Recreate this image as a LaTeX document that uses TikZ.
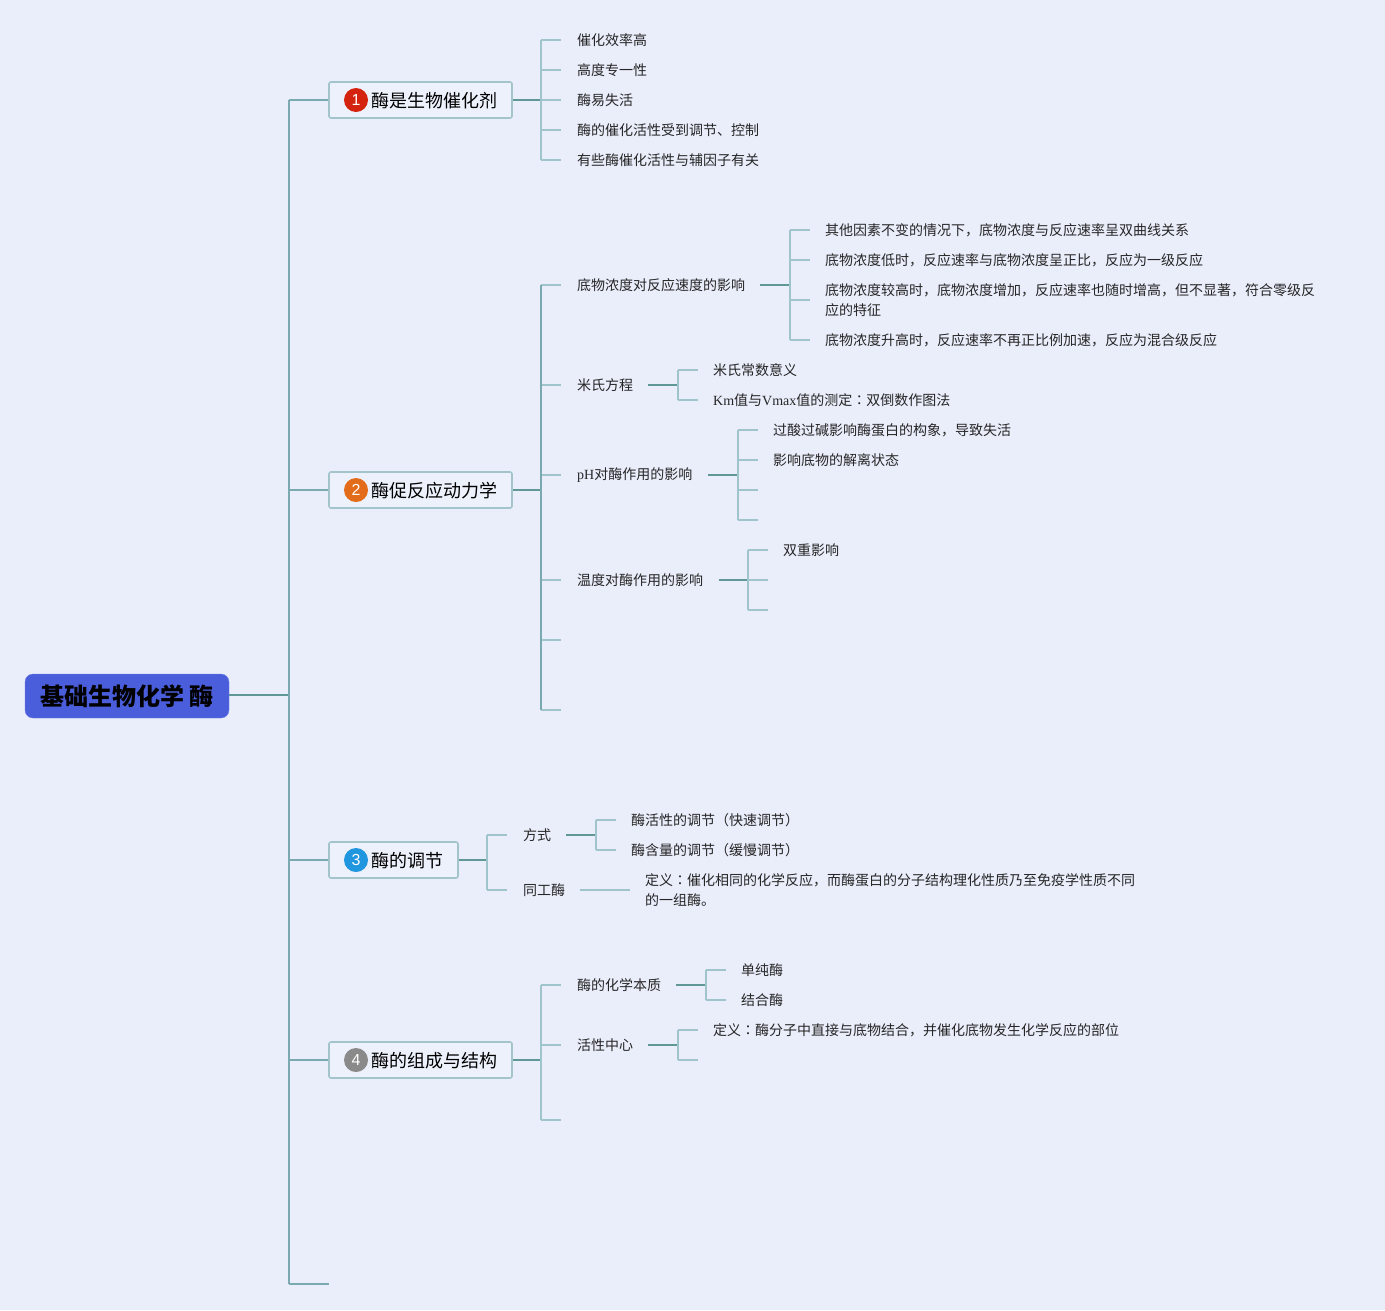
\documentclass[tikz,border=0pt]{standalone}
\usepackage{fontspec}
\setmainfont{Liberation Serif}
\newfontfamily\cjk{Noto Sans CJK SC}
\newfontfamily\cjktc{Noto Sans CJK TC}
\newfontfamily\numfont{Liberation Sans}
\newcommand{\midcolon}{{\cjktc ：}}
\definecolor{bgcol}{RGB}{234,238,251}
\definecolor{boxfill}{RGB}{236,241,251}
\definecolor{boxcol}{RGB}{164,196,204}
\definecolor{rootcol}{RGB}{74,94,220}
\definecolor{stemcol}{RGB}{96,152,152}
\definecolor{trunkcol}{RGB}{122,170,176}
\definecolor{twigcol}{RGB}{160,196,204}
\definecolor{redone}{RGB}{212,35,15}
\definecolor{orangetwo}{RGB}{226,108,26}
\definecolor{bluethree}{RGB}{32,150,222}
\definecolor{greyfour}{RGB}{138,138,138}
\tikzset{
  leaf/.style={anchor=west, inner sep=0pt, align=left, text=black!85,
    font=\cjk\fontsize{14}{20}\selectfont},
  topic/.style={anchor=west, inner sep=0pt, font=\cjk\fontsize{18}{22}\selectfont},
  topicbox/.style={draw=boxcol, line width=1.6pt, fill=boxfill, rounded corners=2pt,
    minimum height=36pt, inner sep=0pt},
  badge/.style={circle, fill=#1, minimum size=24pt, inner sep=0pt, text=white,
    font=\numfont\fontsize{16}{16}\selectfont},
  stem/.style={draw=stemcol, line width=2pt},
  trunk/.style={draw=trunkcol, line width=2pt},
  twig/.style={draw=twigcol, line width=1.6pt},
}
\begin{document}
\begin{tikzpicture}[x=1pt,y=-1pt]
\fill[bgcol] (0,0) rectangle (1385,1310);
%%%% root and trunk
\node[fill=rootcol, draw=rootcol!80!white, rounded corners=8pt, minimum width=204pt,
  minimum height=44pt, font=\cjk\bfseries\fontsize{24}{28}\selectfont] (root) at (127,696) {基础生物化学 酶};
\coordinate (tr) at (289,695);
\coordinate (n5) at (329,1284);
\draw[stem] (root.east |- tr) -- (tr);
\draw[trunk] (tr |- 0,100) -- (tr |- n5);
%%%% topic boxes
\node[topicbox, minimum width=183pt] (n1) at (420.5,100) {};
\node[badge=redone] (c1) at (356,100) {1};
\node[topic] (t1) at (371,101) {酶是生物催化剂};
\node[topicbox, minimum width=183pt] (n2) at (420.5,490) {};
\node[badge=orangetwo] (c2) at (356,490) {2};
\node[topic] (t2) at (371,491) {酶促反应动力学};
\node[topicbox, minimum width=129pt] (n3) at (393.5,860) {};
\node[badge=bluethree] (c3) at (356,860) {3};
\node[topic] (t3) at (371,861) {酶的调节};
\node[topicbox, minimum width=183pt] (n4) at (420.5,1060) {};
\node[badge=greyfour] (c4) at (356,1060) {4};
\node[topic] (t4) at (371,1061) {酶的组成与结构};
\foreach \n in {n1,n2,n3,n4,n5}
\draw[trunk] (tr |- \n.west) -- (\n.west);
%%%% topic 1
\coordinate (v1) at (541,100);
\draw[stem] (n1.east) -- (v1);
\foreach \y/\s [count=\i] in {40/催化效率高,70/高度专一性,100/酶易失活,
  130/酶的催化活性受到调节、控制,160/有些酶催化活性与辅因子有关}{
\node[leaf] (a\i) at (577,\y) {\s};
\draw[twig] (v1 |- a\i) -- ++(20,0);
}
\draw[twig] (v1 |- a1) -- (v1 |- a5);
%%%% topic 2
\coordinate (v2) at (541,490);
\draw[stem] (n2.east) -- (v2);
\node[leaf] (s21) at (577,285) {底物浓度对反应速度的影响};
\node[leaf] (s22) at (577,385) {米氏方程};
\node[leaf] (s23) at (577,475) {{\rmfamily pH}对酶作用的影响};
\node[leaf] (s24) at (577,580) {温度对酶作用的影响};
\coordinate (s25) at (561,640);
\coordinate (s26) at (561,710);
\foreach \s in {s21,s22,s23,s24}
\draw[twig] (v2 |- \s.west) -- ++(20,0);
\draw[twig] (v2 |- s25) -- (s25);
\draw[twig] (v2 |- s26) -- (s26);
\draw[trunk] (v2 |- s21.west) -- (v2 |- s26);
% substrate
\coordinate (v21) at (790,285);
\draw[stem] (v21 -| s21.east) ++(15,0) -- (v21);
\node[leaf] (b1) at (825,230) {其他因素不变的情况下，底物浓度与反应速率呈双曲线关系};
\node[leaf] (b2) at (825,260) {底物浓度低时，反应速率与底物浓度呈正比，反应为一级反应};
\node[leaf] (b3) at (825,300) {底物浓度较高时，底物浓度增加，反应速率也随时增高，但不显著，符合零级反\\应的特征};
\node[leaf] (b4) at (825,340) {底物浓度升高时，反应速率不再正比例加速，反应为混合级反应};
\foreach \b in {b1,b2,b3,b4}
\draw[twig] (v21 |- \b.west) -- ++(20,0);
\draw[twig] (v21 |- b1.west) -- (v21 |- b4.west);
% michaelis
\coordinate (v22) at (678,385);
\draw[stem] (v22 -| s22.east) ++(15,0) -- (v22);
\node[leaf] (m1) at (713,370) {米氏常数意义};
\node[leaf] (m2) at (713,400) {{\rmfamily Km}值与{\rmfamily Vmax}值的测定\midcolon 双倒数作图法};
\draw[twig] (v22 |- m1.west) -- ++(20,0);
\draw[twig] (v22 |- m2.west) -- ++(20,0);
\draw[twig] (v22 |- m1.west) -- (v22 |- m2.west);
% ph
\coordinate (v23) at (738,475);
\draw[stem] (v23 -| s23.east) ++(15,0) -- (v23);
\node[leaf] (p1) at (773,430) {过酸过碱影响酶蛋白的构象，导致失活};
\node[leaf] (p2) at (773,460) {影响底物的解离状态};
\coordinate (p3) at (758,490);
\coordinate (p4) at (758,520);
\draw[twig] (v23 |- p1.west) -- ++(20,0);
\draw[twig] (v23 |- p2.west) -- ++(20,0);
\draw[twig] (v23 |- p3) -- (p3);
\draw[twig] (v23 |- p4) -- (p4);
\draw[twig] (v23 |- p1.west) -- (v23 |- p4);
% temperature
\coordinate (v24) at (748,580);
\draw[stem] (v24 -| s24.east) ++(16,0) -- (v24);
\node[leaf] (w1) at (783,550) {双重影响};
\coordinate (w2) at (768,580);
\coordinate (w3) at (768,610);
\draw[twig] (v24 |- w1.west) -- ++(20,0);
\draw[twig] (v24 |- w2) -- (w2);
\draw[twig] (v24 |- w3) -- (w3);
\draw[twig] (v24 |- w1.west) -- (v24 |- w3);
%%%% topic 3
\coordinate (v3) at (487,860);
\draw[stem] (n3.east) -- (v3);
\node[leaf] (s31) at (523,835) {方式};
\node[leaf] (s32) at (523,890) {同工酶};
\draw[twig] (v3 |- s31.west) -- ++(20,0);
\draw[twig] (v3 |- s32.west) -- ++(20,0);
\draw[twig] (v3 |- s31.west) -- (v3 |- s32.west);
\coordinate (v31) at (596,835);
\draw[stem] (v31 -| s31.east) ++(15,0) -- (v31);
\node[leaf] (f1) at (631,820) {酶活性的调节（快速调节）};
\node[leaf] (f2) at (631,850) {酶含量的调节（缓慢调节）};
\draw[twig] (v31 |- f1.west) -- ++(20,0);
\draw[twig] (v31 |- f2.west) -- ++(20,0);
\draw[twig] (v31 |- f1.west) -- (v31 |- f2.west);
\node[leaf] (g1) at (645,890) {定义\midcolon 催化相同的化学反应，而酶蛋白的分子结构理化性质乃至免疫学性质不同\\的一组酶。};
\draw[twig] (g1.west -| s32.east) ++(15,0) -- ([xshift=-15pt]g1.west);
%%%% topic 4
\coordinate (v4) at (541,1060);
\draw[stem] (n4.east) -- (v4);
\node[leaf] (s41) at (577,985) {酶的化学本质};
\node[leaf] (s42) at (577,1045) {活性中心};
\coordinate (s43) at (561,1120);
\draw[twig] (v4 |- s41.west) -- ++(20,0);
\draw[twig] (v4 |- s42.west) -- ++(20,0);
\draw[twig] (v4 |- s43) -- (s43);
\draw[twig] (v4 |- s41.west) -- (v4 |- s43);
\coordinate (v41) at (706,985);
\draw[stem] (v41 -| s41.east) ++(15,0) -- (v41);
\node[leaf] (h1) at (741,970) {单纯酶};
\node[leaf] (h2) at (741,1000) {结合酶};
\draw[twig] (v41 |- h1.west) -- ++(20,0);
\draw[twig] (v41 |- h2.west) -- ++(20,0);
\draw[twig] (v41 |- h1.west) -- (v41 |- h2.west);
\coordinate (v42) at (678,1045);
\draw[stem] (v42 -| s42.east) ++(15,0) -- (v42);
\node[leaf] (k1) at (713,1030) {定义\midcolon 酶分子中直接与底物结合，并催化底物发生化学反应的部位};
\coordinate (k2) at (698,1060);
\draw[twig] (v42 |- k1.west) -- ++(20,0);
\draw[twig] (v42 |- k2) -- (k2);
\draw[twig] (v42 |- k1.west) -- (v42 |- k2);
\end{tikzpicture}
\end{document}
